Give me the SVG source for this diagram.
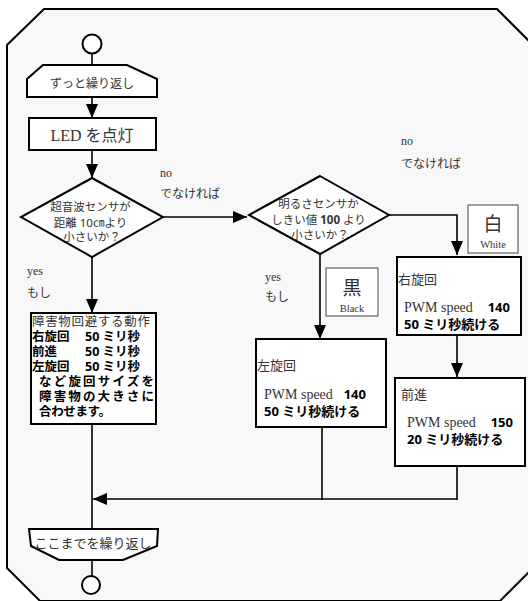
<svg xmlns="http://www.w3.org/2000/svg" width="528" height="601" viewBox="0 0 528 601">
  <defs>
    <marker id="arrow" markerUnits="userSpaceOnUse" markerWidth="14" markerHeight="12" refX="14" refY="6" orient="auto">
      <path d="M0,0 L14,6 L0,12 z" fill="#000"/>
    </marker>
  </defs>
  <style>
    .frame { fill: #f8f8f8; stroke: #000; stroke-width: 2; }
    .shape { fill: #fff; stroke: #000; stroke-width: 2; }
    .thin { fill: #fff; stroke: #444; stroke-width: 1; }
    .edge { fill: none; stroke: #000; stroke-width: 1.6; }
    .serif { font-family: "Liberation Serif", "Noto Sans CJK JP", serif; fill: #333; }
    .sans { font-family: "Noto Sans", "Noto Sans CJK JP", sans-serif; fill: #333; }
    .bold { font-family: "Noto Sans", "Noto Sans CJK JP", sans-serif; font-weight: bold; fill: #000; }
    .lbl { font-family: "Liberation Serif", "Noto Sans CJK JP", serif; font-size: 12px; fill: #333; }
  </style>

  <!-- outer frame -->
  <polygon class="frame" points="44,9 497,9 560,72 560,541 500,601 40,601 7,568 7,45"/>

  <!-- connectors -->
  <g id="connectors">
    <line class="edge" x1="92" y1="53" x2="92" y2="65"/>
    <line class="edge" x1="92" y1="97" x2="92" y2="118" marker-end="url(#arrow)"/>
    <line class="edge" x1="92" y1="150" x2="92" y2="178" marker-end="url(#arrow)"/>
    <line class="edge" x1="163" y1="217" x2="247" y2="217" marker-end="url(#arrow)"/>
    <polyline class="edge" points="389,215 457,215 457,255" marker-end="url(#arrow)"/>
    <line class="edge" x1="92" y1="257" x2="92" y2="313" marker-end="url(#arrow)"/>
    <line class="edge" x1="320" y1="254" x2="320" y2="339" marker-end="url(#arrow)"/>
    <line class="edge" x1="457" y1="335" x2="457" y2="377" marker-end="url(#arrow)"/>
    <line class="edge" x1="457" y1="466" x2="457" y2="500"/>
    <line class="edge" x1="322" y1="427" x2="322" y2="500"/>
    <line class="edge" x1="457" y1="499" x2="93" y2="499" marker-end="url(#arrow)"/>
    <line class="edge" x1="92" y1="425" x2="92" y2="529"/>
    <line class="edge" x1="92" y1="560" x2="92" y2="576"/>
  </g>

  <!-- start terminal -->
  <g id="start">
    <circle class="shape" cx="92" cy="44" r="9.5" stroke-width="1.6"/>
  </g>

  <!-- loop start -->
  <g id="loop-start">
    <polygon class="shape" points="43,65 127,65 157,79 157,97 27,97 27,79"/>
    <text class="sans" x="92" y="88" font-size="12" text-anchor="middle">ずっと繰り返し</text>
  </g>

  <!-- LED on -->
  <g id="led">
    <rect class="shape" x="29" y="118" width="127" height="32"/>
    <text class="serif" x="92" y="141" font-size="16" text-anchor="middle" fill="#222">LED を点灯</text>
  </g>

  <!-- ultrasonic decision -->
  <g id="decision-distance">
    <polygon class="shape" points="92,178 163,217 92,257 21,217"/>
    <text class="sans" font-size="11.5" text-anchor="middle" fill="#555">
      <tspan x="92" y="211">超音波センサが</tspan>
      <tspan x="92" y="227">距離 10㎝より</tspan>
      <tspan x="92" y="241">小さいか？</tspan>
    </text>
  </g>
  <text class="lbl" x="160" y="177">no</text>
  <text class="sans" x="160" y="198" font-size="12">でなければ</text>
  <text class="lbl" x="27" y="275">yes</text>
  <text class="sans" x="27" y="297" font-size="12">もし</text>

  <!-- avoidance action -->
  <g id="avoid">
    <rect class="shape" x="31" y="313" width="125" height="111"/>
    <text class="sans" x="32" y="326" font-size="12.5" fill="#555" textLength="118">障害物回避する動作</text>
    <text class="bold" x="32" y="341" font-size="12.5">右旋回</text>
    <text class="bold" x="85" y="341" font-size="12.5">50 ミリ秒</text>
    <text class="bold" x="32" y="356" font-size="12.5">前進</text>
    <text class="bold" x="85" y="356" font-size="12.5">50 ミリ秒</text>
    <text class="bold" x="32" y="371" font-size="12.5">左旋回</text>
    <text class="bold" x="85" y="371" font-size="12.5">50 ミリ秒</text>
    <text class="bold" x="39" y="386" font-size="12.5" textLength="115">など旋回サイズを</text>
    <text class="bold" x="39" y="401" font-size="12.5" textLength="115">障害物の大きさに</text>
    <text class="bold" x="39" y="416" font-size="12.5" textLength="72">合わせます。</text>
  </g>

  <!-- brightness decision -->
  <g id="decision-light">
    <polygon class="shape" points="320,176 389,215 320,254 249,215"/>
    <text class="sans" font-size="11.5" text-anchor="middle" fill="#555">
      <tspan x="320" y="208">明るさセンサか</tspan>
      <tspan x="320" y="224">しきい値 <tspan font-weight="bold">100</tspan> より</tspan>
      <tspan x="320" y="239">小さいか？</tspan>
    </text>
  </g>
  <text class="lbl" x="401" y="145">no</text>
  <text class="sans" x="401" y="168" font-size="12">でなければ</text>
  <text class="lbl" x="265" y="281">yes</text>
  <text class="sans" x="265" y="301" font-size="12">もし</text>

  <!-- white tag -->
  <g id="tag-white">
    <rect class="thin" x="468" y="205" width="50" height="48"/>
    <text class="sans" x="493" y="231" font-size="19" text-anchor="middle" fill="#222">白</text>
    <text class="serif" x="493" y="248" font-size="10.5" text-anchor="middle">White</text>
  </g>

  <!-- black tag -->
  <g id="tag-black">
    <rect class="thin" x="326" y="268" width="52" height="48"/>
    <text class="sans" x="352" y="295" font-size="19" text-anchor="middle" fill="#222">黒</text>
    <text class="serif" x="352" y="312" font-size="10.5" text-anchor="middle">Black</text>
  </g>

  <!-- turn left -->
  <g id="turn-left">
    <rect class="shape" x="256" y="339" width="130" height="88"/>
    <text class="sans" x="257" y="370" font-size="13">左旋回</text>
    <text class="serif" x="264" y="399" font-size="14">PWM speed</text>
    <text class="bold" x="366" y="399" font-size="13" text-anchor="end">140</text>
    <text class="bold" x="264" y="416" font-size="13">50 ミリ秒続ける</text>
  </g>

  <!-- turn right -->
  <g id="turn-right">
    <rect class="shape" x="397" y="257" width="124" height="78"/>
    <text class="sans" x="398" y="284" font-size="13">右旋回</text>
    <text class="serif" x="404" y="312" font-size="14">PWM speed</text>
    <text class="bold" x="510" y="312" font-size="13" text-anchor="end">140</text>
    <text class="bold" x="404" y="329" font-size="13">50 ミリ秒続ける</text>
  </g>

  <!-- forward -->
  <g id="forward">
    <rect class="shape" x="395" y="378" width="130" height="88"/>
    <text class="sans" x="401" y="399" font-size="13">前進</text>
    <text class="serif" x="407" y="427" font-size="14">PWM speed</text>
    <text class="bold" x="513" y="427" font-size="13" text-anchor="end">150</text>
    <text class="bold" x="407" y="444" font-size="13">20 ミリ秒続ける</text>
  </g>

  <!-- loop end -->
  <g id="loop-end">
    <polygon class="shape" points="29,529 158,529 157,546 123,560 59,560 31,546"/>
    <text class="sans" x="93" y="548" font-size="13" text-anchor="middle" fill="#555">ここまでを繰り返し</text>
  </g>

  <!-- end terminal -->
  <g id="end">
    <circle class="shape" cx="91" cy="585" r="9" stroke-width="1.6"/>
  </g>
</svg>
